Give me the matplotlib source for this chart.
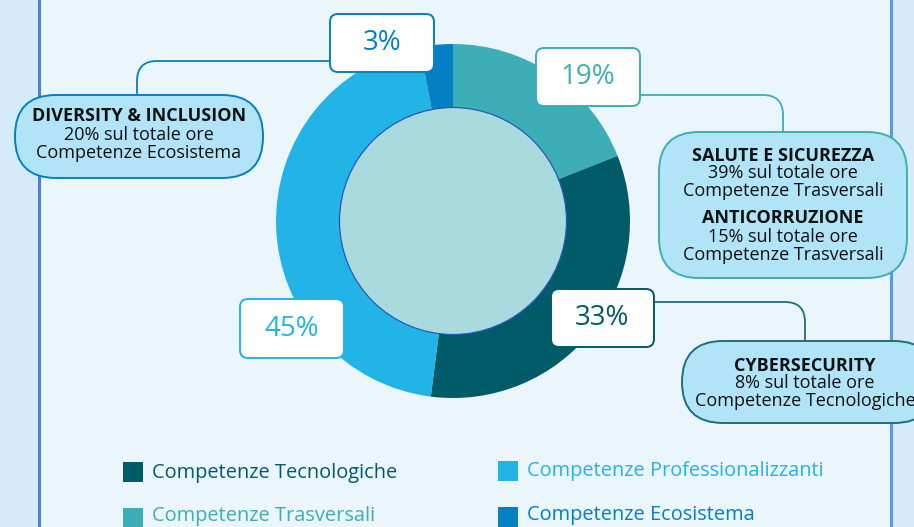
import matplotlib
matplotlib.use("Agg")
import matplotlib.pyplot as plt
from matplotlib.patches import FancyBboxPatch, Circle, Rectangle, PathPatch
from matplotlib.path import Path

plt.rcParams['font.family'] = ['Open Sans', 'DejaVu Sans']

# ---- data ----
categories = ["Competenze Trasversali", "Competenze Tecnologiche",
              "Competenze Professionalizzanti", "Competenze Ecosistema"]
values = [19, 33, 45, 3]
colors = ["#3DAEB5", "#005B69", "#22B4E7", "#0380C4"]
value_labels = ["19%", "33%", "45%", "3%"]

callout_titles = [["DIVERSITY & INCLUSION"],
                  ["SALUTE E SICUREZZA", "ANTICORRUZIONE"],
                  ["CYBERSECURITY"]]
callout_lines = [["20% sul totale ore", "Competenze Ecosistema"],
                 ["39% sul totale ore\nCompetenze Trasversali", "15% sul totale ore\nCompetenze Trasversali"],
                 ["8% sul totale ore", "Competenze Tecnologiche"]]

legend_order = ["Competenze Tecnologiche", "Competenze Professionalizzanti",
                "Competenze Trasversali", "Competenze Ecosistema"]

W, H = 914, 527
fig = plt.figure(figsize=(W / 100, H / 100), dpi=100)
ax = fig.add_axes([0, 0, 1, 1])

def Y(y):
    return H - y

# background
fig.patch.set_facecolor("#EAF5FC")
ax.add_patch(Rectangle((0, 0), 39, H, facecolor="#D6EBF9", edgecolor="none", zorder=0))
ax.add_patch(Rectangle((891, 0), W - 891, H, facecolor="#D6EBF9", edgecolor="none", zorder=0))
ax.plot([39, 39], [0, H], color="#4C82D4", lw=2.2, zorder=1)
ax.plot([891, 891], [0, H], color="#5A9AE0", lw=2.2, zorder=1)

# donut
cx, cy, R, r = 453, Y(221), 177, 113.5
ax.pie(values, colors=colors, startangle=90, counterclock=False,
       center=(cx, cy), radius=R,
       wedgeprops=dict(width=R - r, edgecolor="none"))
ax.add_patch(Circle((cx, cy), r, facecolor="#A9DBDE", edgecolor="#2458B8", lw=0.9, zorder=3))

# connector lines
def connector(x0, y0, x1, y1, rad, color):
    s = 1 if x1 > x0 else -1
    verts = [(x0, Y(y0)), (x1 - s * rad, Y(y0)), (x1, Y(y0)), (x1, Y(y0 + rad)), (x1, Y(y1))]
    codes = [Path.MOVETO, Path.LINETO, Path.CURVE3, Path.CURVE3, Path.LINETO]
    ax.add_patch(PathPatch(Path(verts, codes), facecolor="none", edgecolor=color, lw=1.3, zorder=2))

connector(330, 61, 137, 95, 20, "#0380C4")
connector(640, 95, 783, 132, 20, "#3DAEB5")
connector(654, 302, 805, 341, 20, "#1E6E7C")

def rbox(x0, y0, x1, y1, rad, fc, ec, lw=1.4, z=4):
    p = FancyBboxPatch((x0, Y(y1)), x1 - x0, y1 - y0,
                       boxstyle=f"round,pad=0,rounding_size={rad}",
                       facecolor=fc, edgecolor=ec, lw=lw, zorder=z)
    ax.add_patch(p)

# value boxes
box_pos = {"19%": (536, 48, 640, 106), "33%": (551, 289, 654, 347),
           "45%": (240, 299, 344, 358), "3%": (330, 14, 434, 72)}
for lab, col in zip(value_labels, colors):
    x0, y0, x1, y1 = box_pos[lab]
    rbox(x0, y0, x1, y1, 8, "white", col)
    ax.text((x0 + x1) / 2, Y((y0 + y1) / 2), lab, color=col, fontsize=20,
            ha="center", va="center", zorder=5)

# callouts
fill = "#B1E4F6"
rbox(15, 95, 263, 178, 41, fill, "#0380C4", lw=1.4)
rbox(659, 132, 907, 278, 40, fill, "#3DAEB5", lw=1.4)
rbox(682, 341, 935, 423, 41, fill, "#1E6E7C", lw=1.4)

fs_b, fs = 13, 13
def ctext(x, y, s, bold=False):
    ax.text(x, Y(y), s, fontsize=fs_b if bold else fs,
            fontweight="bold" if bold else "normal",
            ha="center", va="center", color="#111111", zorder=5)

ctext(139, 116, callout_titles[0][0], True)
ctext(139, 135, callout_lines[0][0])
ctext(139, 153, callout_lines[0][1])

ctext(783, 156, callout_titles[1][0], True)
l1, l2 = callout_lines[1][0].split("\n")
ctext(783, 173, l1)
ctext(783, 191, l2)
ctext(783, 218, callout_titles[1][1], True)
l1, l2 = callout_lines[1][1].split("\n")
ctext(783, 237, l1)
ctext(783, 255, l2)

ctext(805, 366, callout_titles[2][0], True)
ctext(805, 383, callout_lines[2][0])
ctext(805, 401, callout_lines[2][1])

# legend
cmap = dict(zip(categories, colors))
leg_pos = [(123, 462, 11), (498, 461, 10), (123, 508, 8), (498, 507, 8)]
for name, (lx, ly, dy) in zip(legend_order, leg_pos):
    ax.add_patch(Rectangle((lx, Y(ly + 20)), 20, 20, facecolor=cmap[name], edgecolor="none", zorder=4))
    ax.text(lx + 29, Y(ly + dy), name, color=cmap[name], fontsize=14.4, ha="left", va="center", zorder=5)

ax.set_xlim(0, W)
ax.set_ylim(0, H)
ax.set_aspect("auto")
ax.axis("off")
fig.savefig("out.png", dpi=100, facecolor=fig.get_facecolor())
